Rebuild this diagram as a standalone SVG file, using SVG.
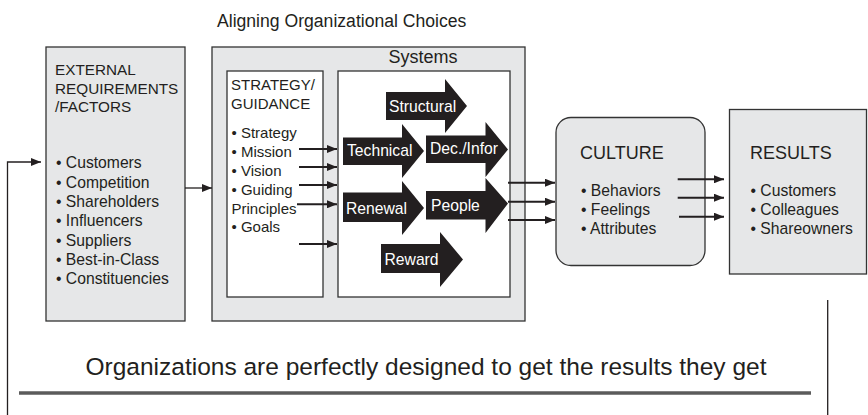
<svg xmlns="http://www.w3.org/2000/svg" width="868" height="415" viewBox="0 0 868 415">
<defs>
<style>
text{font-family:"Liberation Sans",Arial,Helvetica,sans-serif;fill:#231f20}
.box{fill:#e6e7e8;stroke:#333;stroke-width:1.3}
.wbox{fill:#fff;stroke:#333;stroke-width:1.3}
.h15{font-size:15.3px}
.l15{font-size:15px}
.l16{font-size:15.7px}
.h18{font-size:18px}
.blk{fill:#231f20}
.bt{fill:#fff;font-size:15.7px}
.con{stroke:#231f20;stroke-width:2;fill:none}
.thin{stroke:#231f20;stroke-width:1.3;fill:none}
</style>
<marker id="ah" markerUnits="userSpaceOnUse" markerWidth="10" markerHeight="8" refX="10" refY="4" orient="auto">
<path d="M0,0 L10,4 L0,8 z" fill="#231f20"/>
</marker>
</defs>
<rect width="868" height="415" fill="#fff"/>

<text x="217" y="27" style="font-size:17.6px">Aligning Organizational Choices</text>

<g id="external">
<rect class="box" x="46" y="47" width="139" height="274"/>
<text class="h15" x="55" y="75">EXTERNAL</text>
<text class="h15" x="55" y="93.5">REQUIREMENTS</text>
<text class="h15" x="55" y="112">/FACTORS</text>
<text class="l16" x="56" y="168.3">• Customers</text>
<text class="l16" x="56" y="187.6">• Competition</text>
<text class="l16" x="56" y="206.9">• Shareholders</text>
<text class="l16" x="56" y="226.2">• Influencers</text>
<text class="l16" x="56" y="245.5">• Suppliers</text>
<text class="l16" x="56" y="264.8">• Best-in-Class</text>
<text class="l16" x="56" y="284.1">• Constituencies</text>
</g>

<g id="systems">
<rect class="box" x="212" y="47" width="313" height="274"/>
<text class="h18" x="423" y="63" text-anchor="middle">Systems</text>
</g>

<g id="strategy">
<rect class="wbox" x="227" y="71" width="96" height="226"/>
<text class="l15" x="231" y="90">STRATEGY/</text>
<text class="l15" x="231" y="109">GUIDANCE</text>
<text class="l15" x="231.5" y="138">• Strategy</text>
<text class="l15" x="231.5" y="157">• Mission</text>
<text class="l15" x="231.5" y="176">• Vision</text>
<text class="l15" x="231.5" y="195">• Guiding</text>
<text class="l15" x="231.5" y="213.5">Principles</text>
<text class="l15" x="231.5" y="232">• Goals</text>
</g>

<g id="systems-inner">
<rect class="wbox" x="338" y="71" width="172" height="226"/>
</g>

<g id="structural">
<path class="blk" d="M386,92 H445 V79 L467,106 L445,133 V120 H386 z"/>
<text class="bt" x="389" y="112">Structural</text>
</g>
<g id="technical">
<path class="blk" d="M343,137.5 H402 V124 L424,151 L402,178 V165 H343 z"/>
<text class="bt" x="347" y="156">Technical</text>
</g>
<g id="decinfor">
<path class="blk" d="M426,135.5 H485.5 V122 L508,149.5 L485.5,177 V163 H426 z"/>
<text class="bt" x="430" y="154">Dec./Infor</text>
</g>
<g id="renewal">
<path class="blk" d="M343,192.5 H402 V181 L424,208 L402,235 V222 H343 z"/>
<text class="bt" x="346" y="213.5">Renewal</text>
</g>
<g id="people">
<path class="blk" d="M426,191 H485.5 V178 L508,203.5 L485.5,233 V219.5 H426 z"/>
<text class="bt" x="431" y="211">People</text>
</g>
<g id="reward">
<path class="blk" d="M381,244 H440 V232 L463,259.5 L440,287 V273 H381 z"/>
<text class="bt" x="384.5" y="264.5">Reward</text>
</g>

<g id="culture">
<rect class="box" x="556" y="117.5" width="149" height="148" rx="15" ry="15"/>
<text class="h18" x="580" y="158.5">CULTURE</text>
<text class="l16" x="581" y="196">• Behaviors</text>
<text class="l16" x="581" y="215">• Feelings</text>
<text class="l16" x="581" y="234.3">• Attributes</text>
</g>

<g id="results">
<rect class="box" x="729.5" y="109.5" width="137" height="164.5"/>
<text class="h18" x="750" y="158.5">RESULTS</text>
<text class="l16" x="750.5" y="196">• Customers</text>
<text class="l16" x="750.5" y="215">• Colleagues</text>
<text class="l16" x="750.5" y="234.3">• Shareowners</text>
</g>

<g id="connectors">
<polyline class="thin" points="7.5,415 7.5,162 41,162" marker-end="url(#ah)"/>
<line class="thin" x1="185" y1="188" x2="212" y2="188" marker-end="url(#ah)"/>
<line class="con" x1="299" y1="149" x2="337" y2="149" marker-end="url(#ah)"/>
<line class="con" x1="299" y1="167" x2="337" y2="167" marker-end="url(#ah)"/>
<line class="con" x1="299" y1="185" x2="337" y2="185" marker-end="url(#ah)"/>
<line class="con" x1="297" y1="204.3" x2="337" y2="204.3" marker-end="url(#ah)"/>
<line class="con" x1="299" y1="244" x2="337" y2="244" marker-end="url(#ah)"/>
<line class="con" x1="508" y1="182.7" x2="555" y2="182.7" marker-end="url(#ah)"/>
<line class="con" x1="508" y1="201.7" x2="555" y2="201.7" marker-end="url(#ah)"/>
<line class="con" x1="508" y1="220" x2="555" y2="220" marker-end="url(#ah)"/>
<line class="con" x1="677.7" y1="179.3" x2="724" y2="179.3" marker-end="url(#ah)"/>
<line class="con" x1="677.7" y1="197.7" x2="724" y2="197.7" marker-end="url(#ah)"/>
<line class="con" x1="679" y1="216.7" x2="724" y2="216.7" marker-end="url(#ah)"/>
<line class="thin" x1="827.7" y1="300" x2="827.7" y2="415"/>
</g>

<text x="426" y="375" text-anchor="middle" style="font-size:24.5px">Organizations are perfectly designed to get the results they get</text>
<line x1="19" y1="393" x2="811" y2="393" stroke="#5b5b5b" stroke-width="3.5"/>
</svg>
